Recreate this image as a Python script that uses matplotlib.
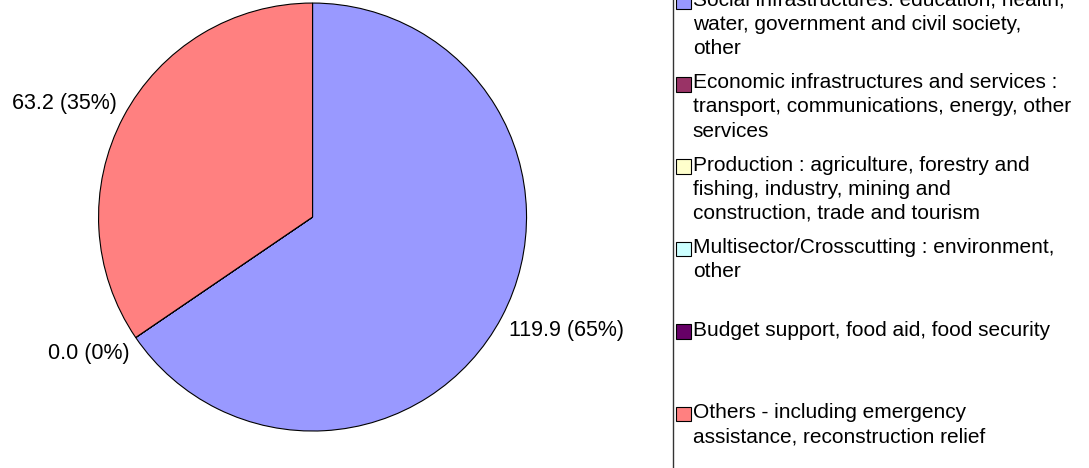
import matplotlib
matplotlib.use("Agg")
import matplotlib.pyplot as plt
from matplotlib.legend_handler import HandlerPatch
from matplotlib.patches import Rectangle, Wedge

sectors = [
    "Social infrastructures: education, health,\nwater, government and civil society,\nother",
    "Economic infrastructures and services :\ntransport, communications, energy, other\nservices",
    "Production : agriculture, forestry and\nfishing, industry, mining and\nconstruction, trade and tourism",
    "Multisector/Crosscutting : environment,\nother",
    "Budget support, food aid, food security",
    "Others - including emergency\nassistance, reconstruction relief",
]
values = [119.9, 0.0, 0.0, 0.0, 0.0, 63.2]
colors = ["#9999FF", "#993366", "#FFFFCC", "#CCFFFF", "#660066", "#FF8080"]
# only these slices get a label in the original
show_label = [True, False, False, False, True, True]

plt.rcParams["font.family"] = ["Liberation Sans", "DejaVu Sans"]


class TopHandler(HandlerPatch):
    """square legend key lined up with the first line of the label"""
    def __init__(self, shift, **kw):
        super().__init__(**kw)
        self.shift = shift

    def create_artists(self, legend, orig_handle, xdescent, ydescent,
                       width, height, fontsize, trans):
        p = Rectangle((-xdescent, -ydescent + self.shift), width, height)
        self.update_prop(p, orig_handle, legend)
        p.set_transform(trans)
        return [p]


total = sum(values)
labels = [f"{v:.1f} ({v / total * 100:.0f}%)" if s else ""
          for v, s in zip(values, show_label)]

fig = plt.figure(figsize=(10.89, 4.68), dpi=100)
ax = fig.add_axes([0.09, 0.079, 0.394, 0.9145])

wedges, texts = ax.pie(values, colors=colors, labels=labels, startangle=90,
                       counterclock=False, labeldistance=1.08,
                       wedgeprops=dict(edgecolor="black", linewidth=0.8),
                       textprops=dict(fontsize=15.5, color="black"))
for t in texts:
    x, y = t.get_position()
    t.set_position((x * 0.96, y * 1.05))
ax.set_xlim(-1, 1)
ax.set_ylim(-1, 1)
ax.set_aspect("equal")

# every legend row gets the same height (three lines), text top-aligned
rows = 3
padded = [s + "\n" * (rows - 1 - s.count("\n")) for s in sectors]

leg = fig.legend(wedges, padded, loc="upper left", mode="expand",
                 bbox_to_anchor=(673 / 1089, 0, 0.5, 1.026), fontsize=15,
                 frameon=True, fancybox=False, edgecolor="black",
                 handlelength=0.7, handleheight=0.7, handletextpad=0.1,
                 labelspacing=0.73, borderpad=0.15, borderaxespad=0,
                 handler_map={Wedge: TopHandler(16.5)})
leg.get_frame().set_linewidth(1.0)
for t in leg.get_texts():
    t.set_linespacing(1.34)

fig.savefig("out.png", dpi=100)
